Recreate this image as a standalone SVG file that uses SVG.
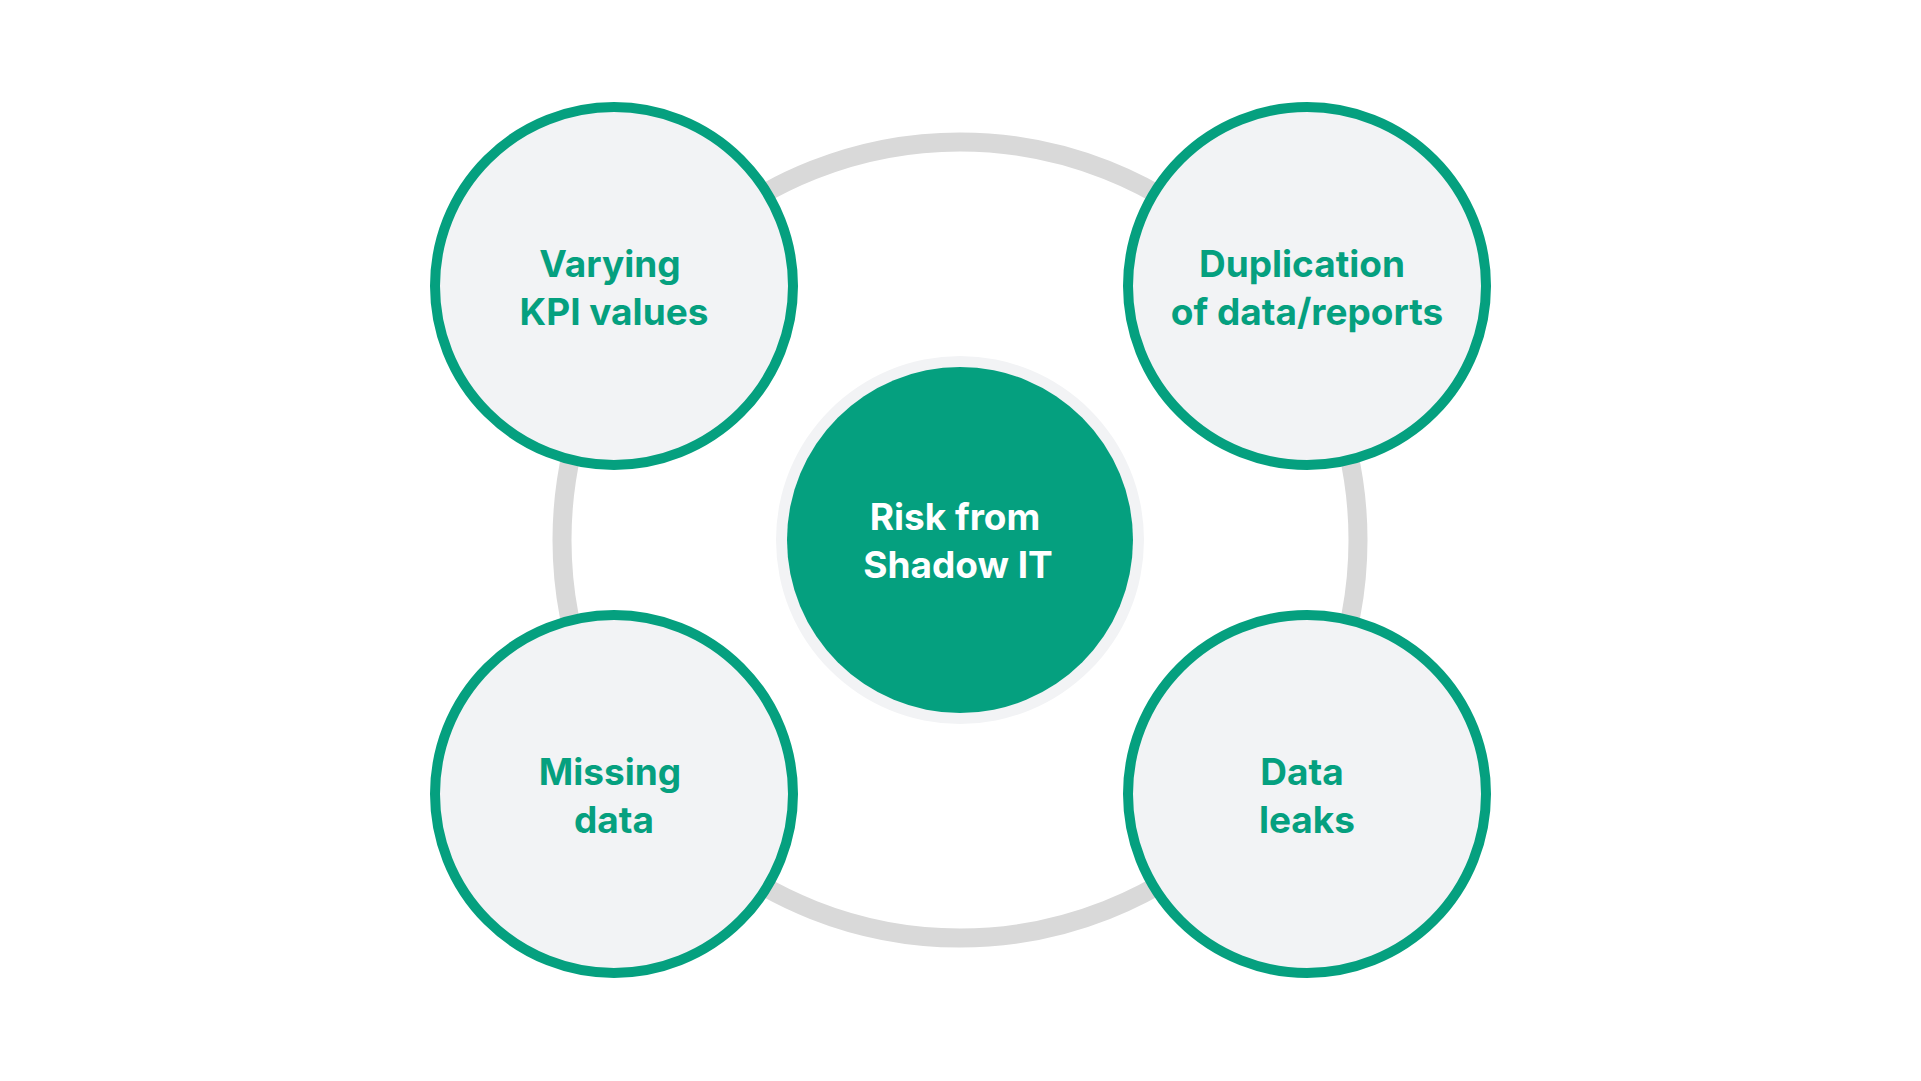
<svg xmlns="http://www.w3.org/2000/svg" width="1921" height="1081" viewBox="0 0 1921 1081">
<style>
.o{fill:#f2f3f5;stroke:#05a07f;stroke-width:10}
.t{font-family:Inter,"Liberation Sans",sans-serif;font-weight:700;font-size:37px;text-anchor:middle;dominant-baseline:central;fill:#05a07f}
.w{fill:#fff}
</style>
<rect width="1921" height="1081" fill="#fff"/>
<g id="connectors"><circle cx="960" cy="540" r="398" fill="none" stroke="#d9d9d9" stroke-width="19"/></g>
<g id="center"><circle cx="960" cy="540" r="184" fill="#f2f3f5"/><circle cx="960" cy="540" r="173" fill="#05a07f"/>
<text class="t w" x="955" y="516">Risk from</text><text class="t w" x="958" y="564">Shadow IT</text></g>
<g id="n1"><circle class="o" cx="614" cy="286" r="179"/><text class="t" x="610" y="263">Varying</text><text class="t" x="614" y="311">KPI values</text></g>
<g id="n2"><circle class="o" cx="1307" cy="286" r="179"/><text class="t" x="1302" y="263">Duplication</text><text class="t" x="1307" y="311">of data/reports</text></g>
<g id="n3"><circle class="o" cx="614" cy="794" r="179"/><text class="t" x="610" y="771">Missing</text><text class="t" x="614" y="819">data</text></g>
<g id="n4"><circle class="o" cx="1307" cy="794" r="179"/><text class="t" x="1302" y="771">Data</text><text class="t" x="1307" y="819">leaks</text></g>
</svg>
